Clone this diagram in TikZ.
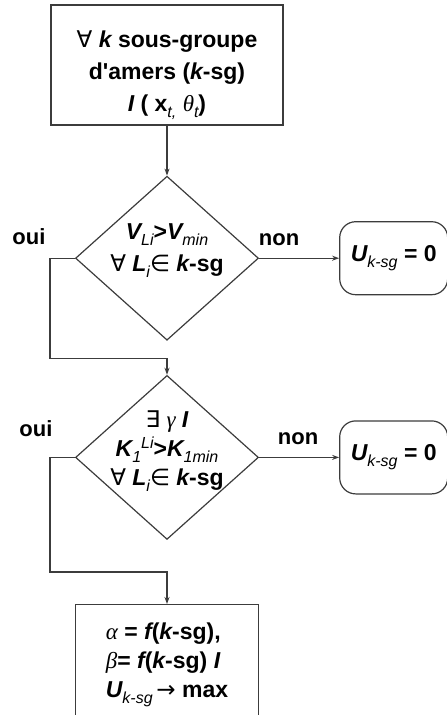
\documentclass[tikz,border=0pt]{standalone}
\usepackage{fontspec}
\setmainfont{Liberation Sans}
\newfontfamily\symf{DejaVu Sans}
\newfontfamily\grkf{Liberation Serif}
\usetikzlibrary{positioning,arrows.meta,shapes.geometric,calc}
\definecolor{edge}{HTML}{3C3C3C}
\newcommand{\bi}[1]{{\bfseries\itshape #1}}
\newcommand{\sy}[1]{{\symf\mdseries #1}}
\newcommand{\gr}[1]{{\grkf\mdseries\itshape #1}}
\newcommand{\lsub}[1]{\raisebox{-6pt}{\fontsize{16}{16}\selectfont\mdseries\itshape #1}}
\newcommand{\lsup}[1]{\raisebox{8pt}{\fontsize{16}{16}\selectfont\mdseries\itshape #1}}
\tikzset{
  procbox/.style={rectangle, draw=edge, line width=1.2pt, fill=white,
                  minimum width=232pt, minimum height=120pt},
  endbox/.style={rectangle, draw=edge, line width=1.2pt, fill=white,
                 minimum width=183pt, minimum height=120pt, align=left,
                 font=\fontsize{23}{29}\selectfont\bfseries},
  decision/.style={diamond, draw=edge, line width=1.2pt, inner sep=0pt,
                   minimum width=183pt, minimum height=164pt},
  result/.style={rectangle, rounded corners=16pt, draw=edge, line width=1.2pt,
                 minimum width=108pt, minimum height=73pt,
                 font=\fontsize{23}{29}\selectfont\bfseries},
  boxtext/.style={align=center, inner sep=0pt,
                  font=\fontsize{23}{32}\selectfont\bfseries},
  tag/.style={inner sep=0pt, font=\fontsize{22}{24}\selectfont\bfseries},
  flow/.style={-{Stealth[length=7pt,width=5pt]}, line width=1.2pt, draw=edge},
  link/.style={line width=1.2pt, draw=edge}
}
\begin{document}
\begin{tikzpicture}[x=1pt, y=1pt]
\useasboundingbox (0,0) rectangle (447,-715);

\node[procbox] (init) at (167,-65) {};
\node[boxtext] (inittxt) at ([yshift=-10pt]init.center)
  {\sy{∀} \bi{k} sous-groupe\\d\textquotesingle amers (\bi{k}-sg)\\\bi{I} ( \textbf{x}\lsub{t,} \gr{θ}\lsub{t})};

\node[decision, below=50pt of init] (testV) {};
\node[boxtext] (testVtxt) at ([yshift=8pt]testV.center)
  {\bi{V}\lsub{Li}>\bi{V}\lsub{min}\\\sy{∀} \bi{L}\lsub{i}\sy{∈} \bi{k}-sg};

\node[decision, below=34pt of testV] (testK) {};
\node[boxtext, font=\fontsize{23}{29}\selectfont\bfseries] (testKtxt) at ([yshift=6pt]testK.center)
  {\sy{∃} \gr{γ} \bi{I}\\\bi{K}\lsub{1}\lsup{Li}>\bi{K}\lsub{1min}\\\sy{∀} \bi{L}\lsub{i}\sy{∈} \bi{k}-sg};

\node[endbox, below=64pt of testK] (final)
  {\gr{α} = \bi{f}(\bi{k}-sg),\\\gr{β}= \bi{f}(\bi{k}-sg) \bi{I}\\\bi{U}\lsub{k-sg}\,\sy{→} max};

\node[result, right=80pt of testV] (zeroV) {\bi{U}\lsub{k-sg} = 0};
\node[result, right=80pt of testK] (zeroK) {\bi{U}\lsub{k-sg} = 0};

% branch labels
\node[tag] (ouiV) at ([xshift=-46pt,yshift=22pt]testV.west) {oui};
\node[tag] (nonV) at ([xshift=20pt,yshift=19pt]testV.east) {non};
\node[tag] (ouiK) at ([xshift=-39pt,yshift=29pt]testK.west) {oui};
\node[tag] (nonK) at ([xshift=39pt,yshift=19pt]testK.east) {non};

\coordinate[below=18pt of testV.south] (joinV);
\coordinate[below=32pt of testK.south] (joinK);

\draw[flow] (init) -- (testV);
\draw[flow] (testV) -- (zeroV);
\draw[flow] (testK) -- (zeroK);
\draw[flow] (testV.west) -- ++(-25pt,0) |- (joinV) -- (testK.north);
\draw[flow] (testK.west) -- ++(-25pt,0) |- (joinK) -- (final.north);
\end{tikzpicture}
\end{document}
